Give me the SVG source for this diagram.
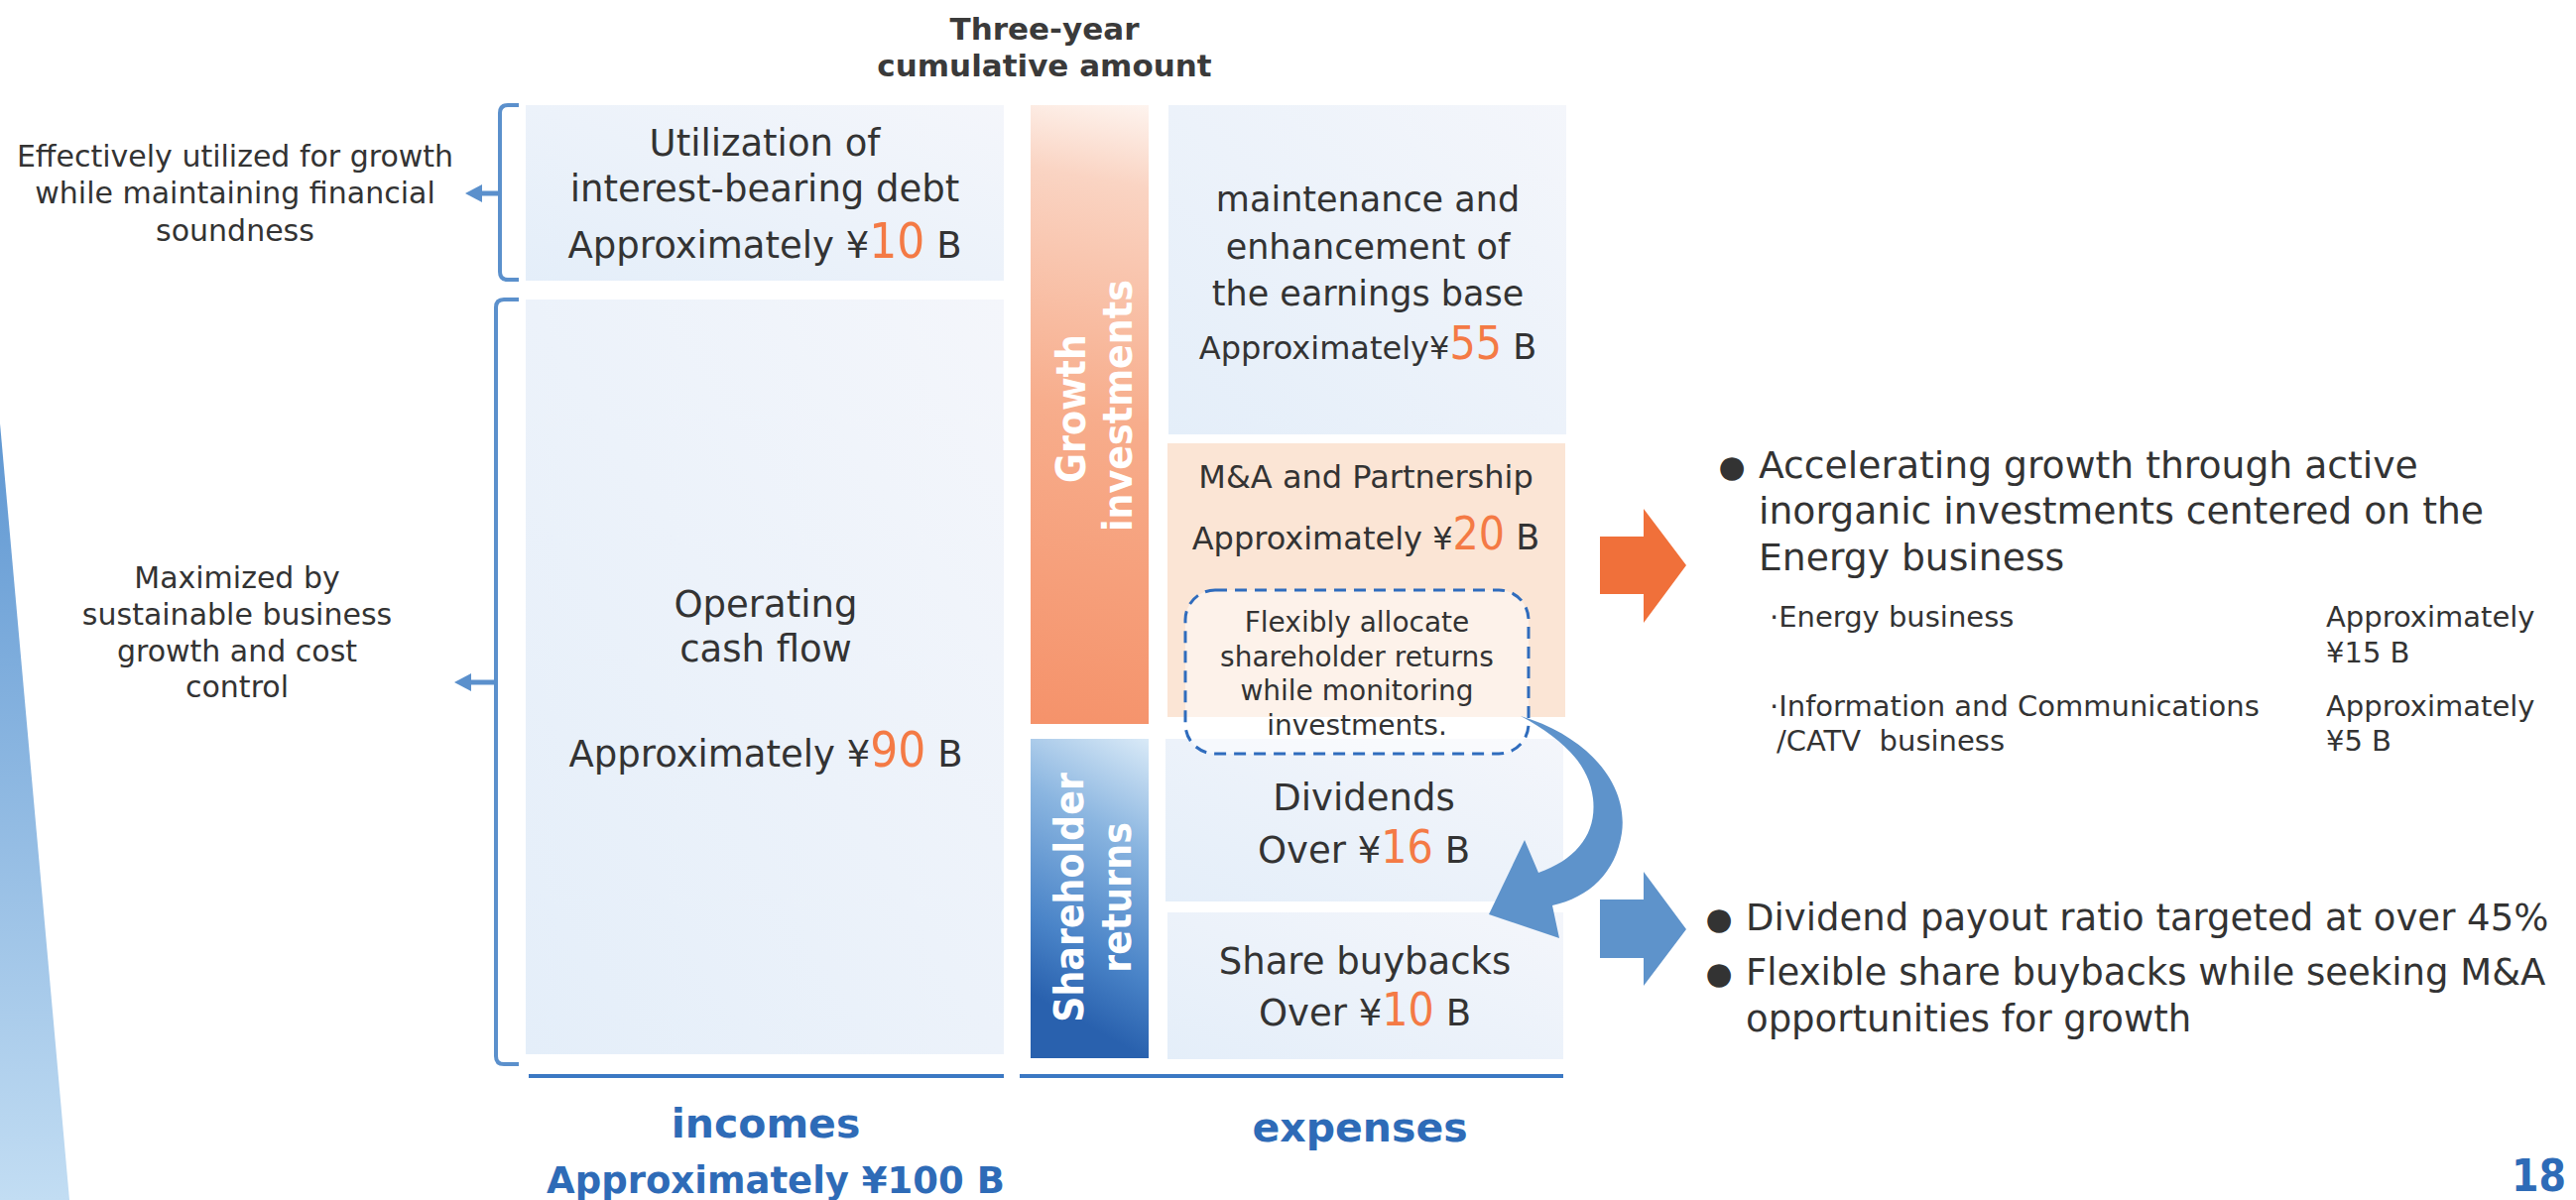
<svg xmlns="http://www.w3.org/2000/svg" width="2597" height="1210" viewBox="0 0 2597 1210">
<style>
text{font-family:"DejaVu Sans","Noto Sans",sans-serif;fill:#333333}
.t30{font-size:30px}
.t37{font-size:37px}
.t38{font-size:37.7px}
.t35{font-size:35px}
.t32{font-size:32px}
.t28{font-size:28px}
.t29{font-size:29px}
.num{font-family:"DejaVu Sans Condensed","DejaVu Sans",sans-serif;font-stretch:condensed;fill:#f47a45}
.n49{font-size:49px}
.n45{font-size:46px}
.vt{font-family:"DejaVu Sans Condensed","DejaVu Sans",sans-serif;font-stretch:condensed;font-weight:bold;font-size:40.5px;fill:#ffffff}
.hd{font-weight:bold;fill:#2e6bb7}
.ttl{font-weight:bold;font-size:31px;fill:#3a3a3a}
.brk{fill:none;stroke:#5b90cc;stroke-width:4;stroke-linejoin:round}
.arrh{fill:#5b90cc}
.base{stroke:#3b78c3;stroke-width:4}
</style>
<defs>
<linearGradient id="gBox" x1="0" y1="1" x2="1" y2="0">
<stop offset="0" stop-color="#e4eef9"/>
<stop offset="1" stop-color="#f4f6fb"/>
</linearGradient>
<linearGradient id="gGrowth" gradientUnits="userSpaceOnUse" x1="1170" y1="100" x2="1050" y2="735">
<stop offset="0" stop-color="#fef7f3"/>
<stop offset="0.14" stop-color="#fad4c3"/>
<stop offset="0.5" stop-color="#f7ad8c"/>
<stop offset="1" stop-color="#f5926a"/>
</linearGradient>
<linearGradient id="gShare" gradientUnits="userSpaceOnUse" x1="1172" y1="755" x2="1035" y2="1000">
<stop offset="0" stop-color="#d8e9f7"/>
<stop offset="0.35" stop-color="#8ab5e0"/>
<stop offset="0.75" stop-color="#4a84c8"/>
<stop offset="1" stop-color="#2961ae"/>
</linearGradient>
<linearGradient id="gWedge" x1="0" y1="0" x2="0" y2="1">
<stop offset="0" stop-color="#5f97d2"/>
<stop offset="1" stop-color="#c2ddf3"/>
</linearGradient>
</defs>

<polygon points="0,427 70,1210 0,1210" fill="url(#gWedge)"/>

<g id="title">
<text class="ttl" x="1053" y="40" text-anchor="middle">Three-year</text>
<text class="ttl" x="1053" y="77" text-anchor="middle">cumulative amount</text>
</g>

<g id="note-debt">
<text class="t30" x="237" y="168" text-anchor="middle">Effectively utilized for growth</text>
<text class="t30" x="237" y="205" text-anchor="middle">while maintaining financial</text>
<text class="t30" x="237" y="243" text-anchor="middle">soundness</text>
</g>
<g id="note-cf">
<text class="t30" x="239" y="593" text-anchor="middle">Maximized by</text>
<text class="t30" x="239" y="630" text-anchor="middle">sustainable business</text>
<text class="t30" x="239" y="667" text-anchor="middle">growth and cost</text>
<text class="t30" x="239" y="703" text-anchor="middle">control</text>
</g>

<g id="debt">
<rect x="530" y="106" width="482" height="177" fill="url(#gBox)"/>
<text class="t37" x="771" y="157" text-anchor="middle">Utilization of</text>
<text class="t37" x="771" y="203" text-anchor="middle">interest-bearing debt</text>
<text class="t37" x="771" y="260" text-anchor="middle">Approximately ¥<tspan class="num n49">10</tspan> B</text>
</g>

<g id="opcf">
<rect x="530" y="302" width="482" height="761" fill="url(#gBox)"/>
<text class="t37" x="772" y="622" text-anchor="middle">Operating</text>
<text class="t37" x="772" y="667" text-anchor="middle">cash flow</text>
<text class="t37" x="772" y="773" text-anchor="middle">Approximately ¥<tspan class="num n49">90</tspan> B</text>
</g>

<g id="growth">
<rect x="1039" y="106" width="119" height="624" fill="url(#gGrowth)"/>
<text class="vt" transform="translate(1094,412) rotate(-90)" text-anchor="middle">Growth</text>
<text class="vt" transform="translate(1141,409) rotate(-90)" text-anchor="middle">investments</text>
</g>

<g id="shareholder">
<rect x="1039" y="745" width="119" height="322" fill="url(#gShare)"/>
<text class="vt" transform="translate(1092,905) rotate(-90)" text-anchor="middle">Shareholder</text>
<text class="vt" transform="translate(1140,905) rotate(-90)" text-anchor="middle">returns</text>
</g>

<g id="maintenance">
<rect x="1178" y="106" width="401" height="332" fill="url(#gBox)"/>
<text class="t35" x="1379" y="213" text-anchor="middle">maintenance and</text>
<text class="t35" x="1379" y="261" text-anchor="middle">enhancement of</text>
<text class="t35" x="1379" y="308" text-anchor="middle">the earnings base</text>
<text class="t32" x="1379" y="362" text-anchor="middle">Approximately¥<tspan class="num n45">55</tspan><tspan font-size="35px"> B</tspan></text>
</g>

<g id="ma">
<rect x="1177" y="447" width="401" height="276" fill="#fbe5d5"/>
<text class="t32" x="1377" y="492" text-anchor="middle">M&amp;A and Partnership</text>
<text class="t32" x="1377" y="554" text-anchor="middle">Approximately ¥<tspan class="num n45">20</tspan><tspan font-size="35px"> B</tspan></text>
</g>

<g id="dividends">
<rect x="1175" y="745" width="401" height="164" fill="url(#gBox)"/>
<text class="t37" x="1375" y="817" text-anchor="middle">Dividends</text>
<text class="t37" x="1375" y="870" text-anchor="middle">Over ¥<tspan class="num n45">16</tspan> B</text>
</g>

<g id="buybacks">
<rect x="1177" y="920" width="399" height="148" fill="url(#gBox)"/>
<text class="t37" x="1376" y="982" text-anchor="middle">Share buybacks</text>
<text class="t37" x="1376" y="1034" text-anchor="middle">Over ¥<tspan class="num n45">10</tspan> B</text>
</g>

<g id="flex-note">
<rect x="1195" y="595" width="346" height="165" rx="30" ry="30" fill="#ffffff" fill-opacity="0.5" stroke="#2f6cbd" stroke-width="3" stroke-dasharray="12 8"/>
<text class="t28" x="1368" y="637" text-anchor="middle">Flexibly allocate</text>
<text class="t28" x="1368" y="672" text-anchor="middle">shareholder returns</text>
<text class="t28" x="1368" y="706" text-anchor="middle">while monitoring</text>
<text class="t28" x="1368" y="741" text-anchor="middle">investments.</text>
</g>

<g id="incomes-label">
<line class="base" x1="533" y1="1085" x2="1012" y2="1085"/>
<text class="hd" x="772" y="1147" text-anchor="middle" font-size="41px">incomes</text>
<text class="hd" x="782" y="1203" text-anchor="middle" font-size="37px">Approximately ¥100 B</text>
</g>
<g id="expenses-label">
<line class="base" x1="1028" y1="1085" x2="1576" y2="1085"/>
<text class="hd" x="1371" y="1151" text-anchor="middle" font-size="41px">expenses</text>
</g>

<g id="growth-notes">
<text font-size="31px" x="1746" y="481" text-anchor="middle">●</text>
<text class="t38" x="1773" y="482">Accelerating growth through active</text>
<text class="t38" x="1773" y="528">inorganic investments centered on the</text>
<text class="t38" x="1773" y="575">Energy business</text>
<text class="t29" x="1784" y="632">·Energy business</text>
<text class="t29" x="2345" y="632">Approximately</text>
<text class="t29" x="2345" y="668">¥15 B</text>
<text class="t29" x="1784" y="722">·Information and Communications</text>
<text class="t29" x="1791" y="757" xml:space="preserve">/CATV  business</text>
<text class="t29" x="2345" y="722">Approximately</text>
<text class="t29" x="2345" y="757">¥5 B</text>
</g>

<g id="return-notes">
<text font-size="31px" x="1733" y="937" text-anchor="middle">●</text>
<text class="t37" x="1760" y="938">Dividend payout ratio targeted at over 45%</text>
<text font-size="31px" x="1733" y="992" text-anchor="middle">●</text>
<text class="t37" x="1760" y="993">Flexible share buybacks while seeking M&amp;A</text>
<text class="t37" x="1760" y="1040">opportunities for growth</text>
</g>

<g id="page">
<text class="hd" x="2587" y="1201" text-anchor="end" font-size="44px" style="font-family:'DejaVu Sans Condensed','DejaVu Sans',sans-serif;font-stretch:condensed">18</text>
</g>

<g id="connectors">
<path class="brk" d="M523,106 L512,106 Q504,106 504,114 L504,274 Q504,282 512,282 L523,282"/>
<line x1="504" y1="195" x2="482" y2="195" stroke="#5b90cc" stroke-width="5"/>
<polygon class="arrh" points="486,186 469,195 486,204"/>
<path class="brk" d="M523,302 L508,302 Q500,302 500,310 L500,1065 Q500,1073 508,1073 L523,1073"/>
<line x1="500" y1="688" x2="471" y2="688" stroke="#5b90cc" stroke-width="5"/>
<polygon class="arrh" points="475,679 458,688 475,697"/>
<polygon fill="#f0703a" points="1613,541 1657,541 1657,513 1700,570 1657,628 1657,599 1613,599"/>
<polygon fill="#5e93cb" points="1613,907 1657,907 1657,879 1700,937 1657,994 1657,966 1613,966"/>
<path fill="#5e93cb" d="M1533,722 C1600,742 1642,790 1635,840 C1629,880 1602,905 1565,913 L1572,946 L1501,922 L1537,847 L1551,880 C1590,866 1610,840 1606,805 C1602,770 1575,745 1533,722 Z"/>
</g>
</svg>
